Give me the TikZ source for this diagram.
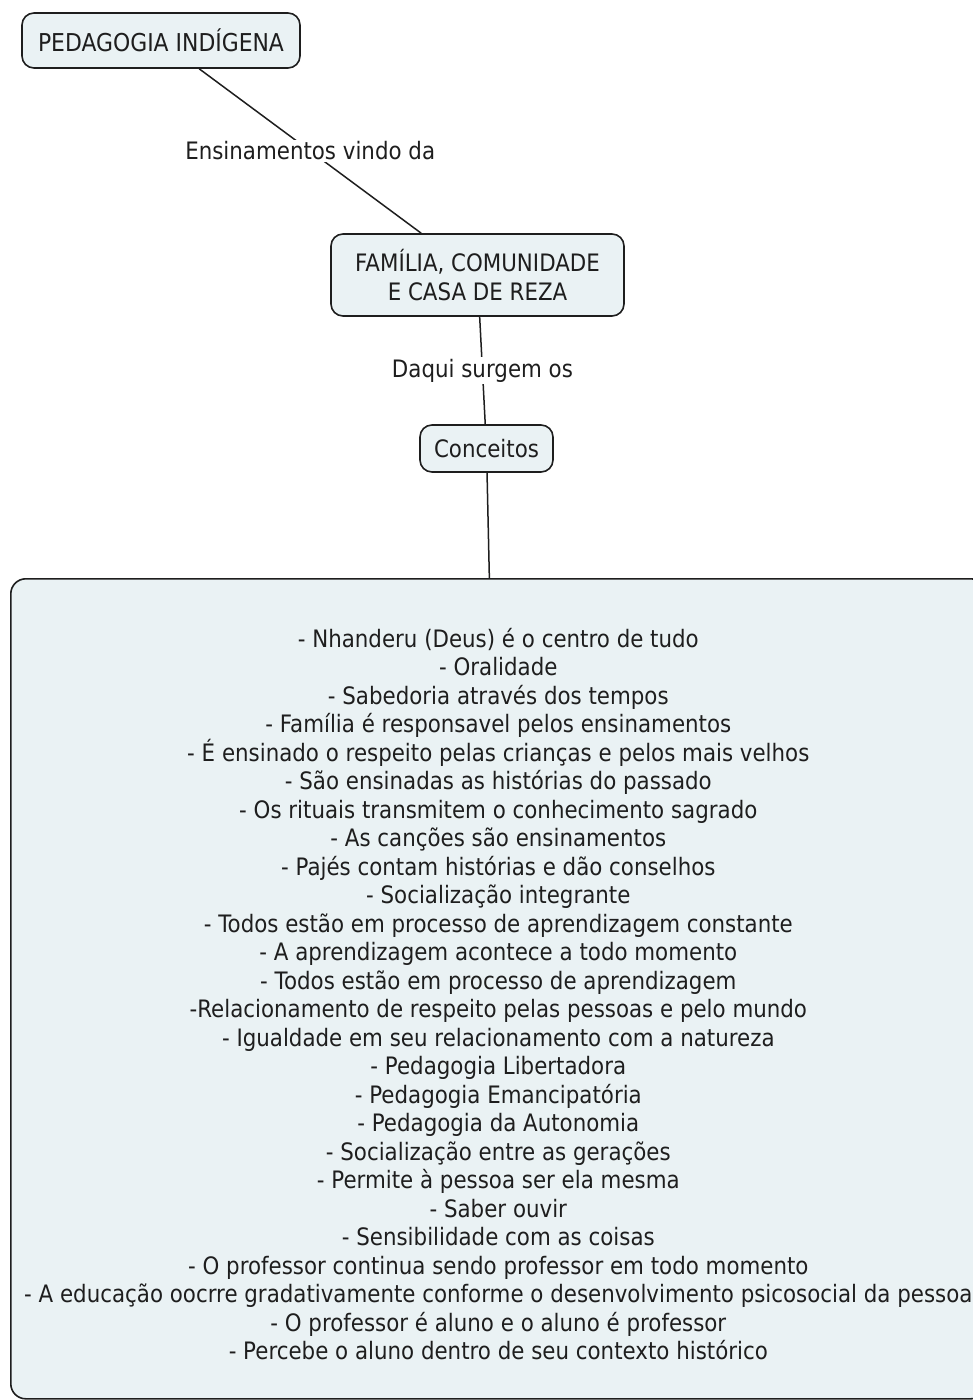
\documentclass[tikz,border=0pt]{standalone}
\usepackage{fontspec}
\setmainfont[FakeStretch=0.89]{DejaVu Sans}
\definecolor{boxfill}{RGB}{234,242,244}
\definecolor{ink}{RGB}{30,30,30}
\begin{document}
\begin{tikzpicture}[x=1pt,y=-1pt,
  concept/.style={draw=ink, line width=1.6pt, fill=boxfill, rounded corners=12pt, text=ink, align=center, inner sep=0pt},
  link/.style={draw=ink, line width=1.5pt},
  lbl/.style={fill=white, text=ink, inner sep=2pt},
  font=\fontsize{24}{28.5}\selectfont]
\useasboundingbox (0,0) rectangle (972,1400);
\node[concept, minimum width=278pt, minimum height=55pt, font=\fontsize{24.6}{28.5}\selectfont] (ped) at (161,40.5) {PEDAGOGIA INDÍGENA};
\node[concept, minimum width=293pt, minimum height=82pt] (fam) at (477.5,275) {FAMÍLIA, COMUNIDADE\\E CASA DE REZA};
\node[concept, minimum width=133pt, minimum height=47pt] (con) at (486.5,448.5) {Conceitos};
\node[concept, rounded corners=15pt, minimum width=975pt, minimum height=820pt, anchor=north west] (big) at (10,578) {%
\rule{0pt}{30pt}- Nhanderu (Deus) é o centro de tudo\\
- Oralidade\\
- Sabedoria através dos tempos\\
- Família é responsavel pelos ensinamentos\\
- É ensinado o respeito pelas crianças e pelos mais velhos\\
- São ensinadas as histórias do passado\\
- Os rituais transmitem o conhecimento sagrado\\
- As canções são ensinamentos\\
- Pajés contam histórias e dão conselhos\\
- Socialização integrante\\
- Todos estão em processo de aprendizagem constante\\
- A aprendizagem acontece a todo momento\\
- Todos estão em processo de aprendizagem\\
-Relacionamento de respeito pelas pessoas e pelo mundo\\
- Igualdade em seu relacionamento com a natureza\\
- Pedagogia Libertadora\\
- Pedagogia Emancipatória\\
- Pedagogia da Autonomia\\
- Socialização entre as gerações\\
- Permite à pessoa ser ela mesma\\
- Saber ouvir\\
- Sensibilidade com as coisas\\
- O professor continua sendo professor em todo momento\\
- A educação oocrre gradativamente conforme o desenvolvimento psicosocial da pessoa\\
- O professor é aluno e o aluno é professor\\
- Percebe o aluno dentro de seu contexto histórico};
\draw[link] (ped) -- node[lbl] {Ensinamentos vindo da} (fam);
\draw[link] (fam) -- node[lbl] {Daqui surgem os} (con);
\draw[link] (con) -- (big);
\end{tikzpicture}
\end{document}
